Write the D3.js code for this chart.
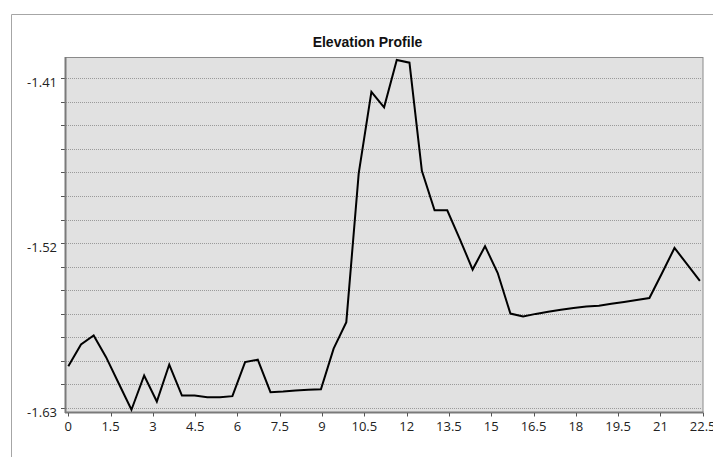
<!DOCTYPE html>
<html>
<head>
<meta charset="utf-8">
<script src="https://cdn.jsdelivr.net/npm/d3@7"></script>
<style>
  html, body { margin: 0; padding: 0; background: #fff; }
  svg { display: block; }
</style>
</head>
<body>
<svg id="chart" width="713" height="457"></svg>
<script>
// ---- data ----
const title = "Elevation Profile";
const distance = [0, 0.45, 0.9, 1.34, 1.79, 2.24, 2.69, 3.14, 3.58, 4.03,
  4.48, 4.93, 5.38, 5.82, 6.27, 6.72, 7.17, 7.62, 8.06, 8.51,
  8.96, 9.41, 9.86, 10.3, 10.75, 11.2, 11.65, 12.1, 12.54, 12.99,
  13.44, 13.89, 14.34, 14.78, 15.23, 15.68, 16.13, 16.58, 17.02, 17.47,
  17.92, 18.37, 18.82, 19.26, 19.71, 20.16, 20.61, 21.06, 21.5, 21.95, 22.4];
const elevation = [-1.6022, -1.5877, -1.5817, -1.5962, -1.6138, -1.6313, -1.6084, -1.6258, -1.6011, -1.6218,
  -1.6218, -1.6229, -1.6229, -1.6222, -1.5995, -1.5979, -1.6196, -1.6191, -1.6184, -1.6180,
  -1.6176, -1.5905, -1.5728, -1.4735, -1.4190, -1.4294, -1.3978, -1.3996, -1.4718, -1.4981,
  -1.4981, -1.5175, -1.5377, -1.5221, -1.5400, -1.5671, -1.5690, -1.5673, -1.5659, -1.5646,
  -1.5633, -1.5623, -1.5619, -1.5606, -1.5593, -1.5580, -1.5567, -1.5400, -1.5233, -1.5342, -1.5453];
const xTicks = [0, 1.5, 3, 4.5, 6, 7.5, 9, 10.5, 12, 13.5, 15, 16.5, 18, 19.5, 21, 22.5];
const yTickLabels = [-1.41, -1.52, -1.63];
const yGridIntervals = 14;   // minor gridlines between -1.63 and -1.41

// ---- layout ----
const svg = d3.select("#chart");
const L = 65, R = 703, T = 57, B = 412;
const x = d3.scaleLinear().domain([0, 22.5]).range([68.3, 702.7]);
const y = d3.scaleLinear().domain([-1.633, -1.396]).range([412.3, 57.3]);
const labelFont = "'Open Sans', 'DejaVu Sans', sans-serif";

// outer frame
svg.append("path")
  .attr("d", "M11.5,457 L11.5,14.5 L713,14.5")
  .attr("fill", "none").attr("stroke", "#a6a6a6").attr("stroke-width", 1);

// title
svg.append("text")
  .attr("x", 367.5).attr("y", 46.5)
  .attr("text-anchor", "middle")
  .attr("font-family", "'Liberation Sans', Arial, sans-serif")
  .attr("font-weight", "bold").attr("font-size", 14)
  .attr("fill", "#111")
  .text(title);

// plot background
svg.append("rect")
  .attr("x", L + 0.5).attr("y", T + 0.5)
  .attr("width", R - L - 0.5).attr("height", B - T)
  .attr("fill", "#e1e1e1").attr("stroke", "#8a8a8a").attr("stroke-width", 1);

// gridlines
const yLo = yTickLabels[yTickLabels.length - 1], yHi = yTickLabels[0];
const gridVals = d3.range(yGridIntervals + 1).map(i => yLo + i * (yHi - yLo) / yGridIntervals);
const grid = svg.append("g");
gridVals.forEach(v => {
  const yy = Math.round(y(v)) + 0.5;
  grid.append("line")
    .attr("x1", L + 1).attr("x2", R - 1).attr("y1", yy).attr("y2", yy)
    .attr("stroke", "#9a9a9a").attr("stroke-width", 1)
    .attr("stroke-dasharray", "1,1");
  // small tick
  grid.append("line")
    .attr("x1", 61).attr("x2", L).attr("y1", yy).attr("y2", yy)
    .attr("stroke", "#555").attr("stroke-width", 1);
});

// y labels
svg.append("g").selectAll("text").data(yTickLabels).join("text")
  .attr("x", 57).attr("y", d => y(d) + 4)
  .attr("text-anchor", "end").attr("dominant-baseline", "central")
  .attr("font-family", labelFont).attr("font-size", 13).attr("fill", "#222")
  .text(d => d.toFixed(2));

// axis lines
svg.append("line").attr("x1", L + 0.5).attr("x2", L + 0.5).attr("y1", T).attr("y2", B + 1)
  .attr("stroke", "#7a7a7a").attr("stroke-width", 2);
svg.append("line").attr("x1", L).attr("x2", R + 0.5).attr("y1", B + 0.5).attr("y2", B + 0.5)
  .attr("stroke", "#7a7a7a").attr("stroke-width", 2);

// x ticks + labels
const xg = svg.append("g");
xg.selectAll("line").data(xTicks).join("line")
  .attr("x1", d => Math.round(x(d)) + 0.5).attr("x2", d => Math.round(x(d)) + 0.5)
  .attr("y1", B + 1).attr("y2", B + 4.5)
  .attr("stroke", "#555").attr("stroke-width", 1);
xg.selectAll("text").data(xTicks).join("text")
  .attr("x", d => x(d)).attr("y", 431)
  .attr("text-anchor", "middle")
  .attr("font-family", labelFont).attr("font-size", 13).attr("fill", "#222")
  .text(d => String(d));

// profile line
const pts = distance.map((d, i) => [d, elevation[i]]);
svg.append("path")
  .datum(pts)
  .attr("fill", "none").attr("stroke", "#000").attr("stroke-width", 2)
  .attr("stroke-linejoin", "miter")
  .attr("d", d3.line().x(d => x(d[0])).y(d => y(d[1])));
</script>
</body>
</html>
